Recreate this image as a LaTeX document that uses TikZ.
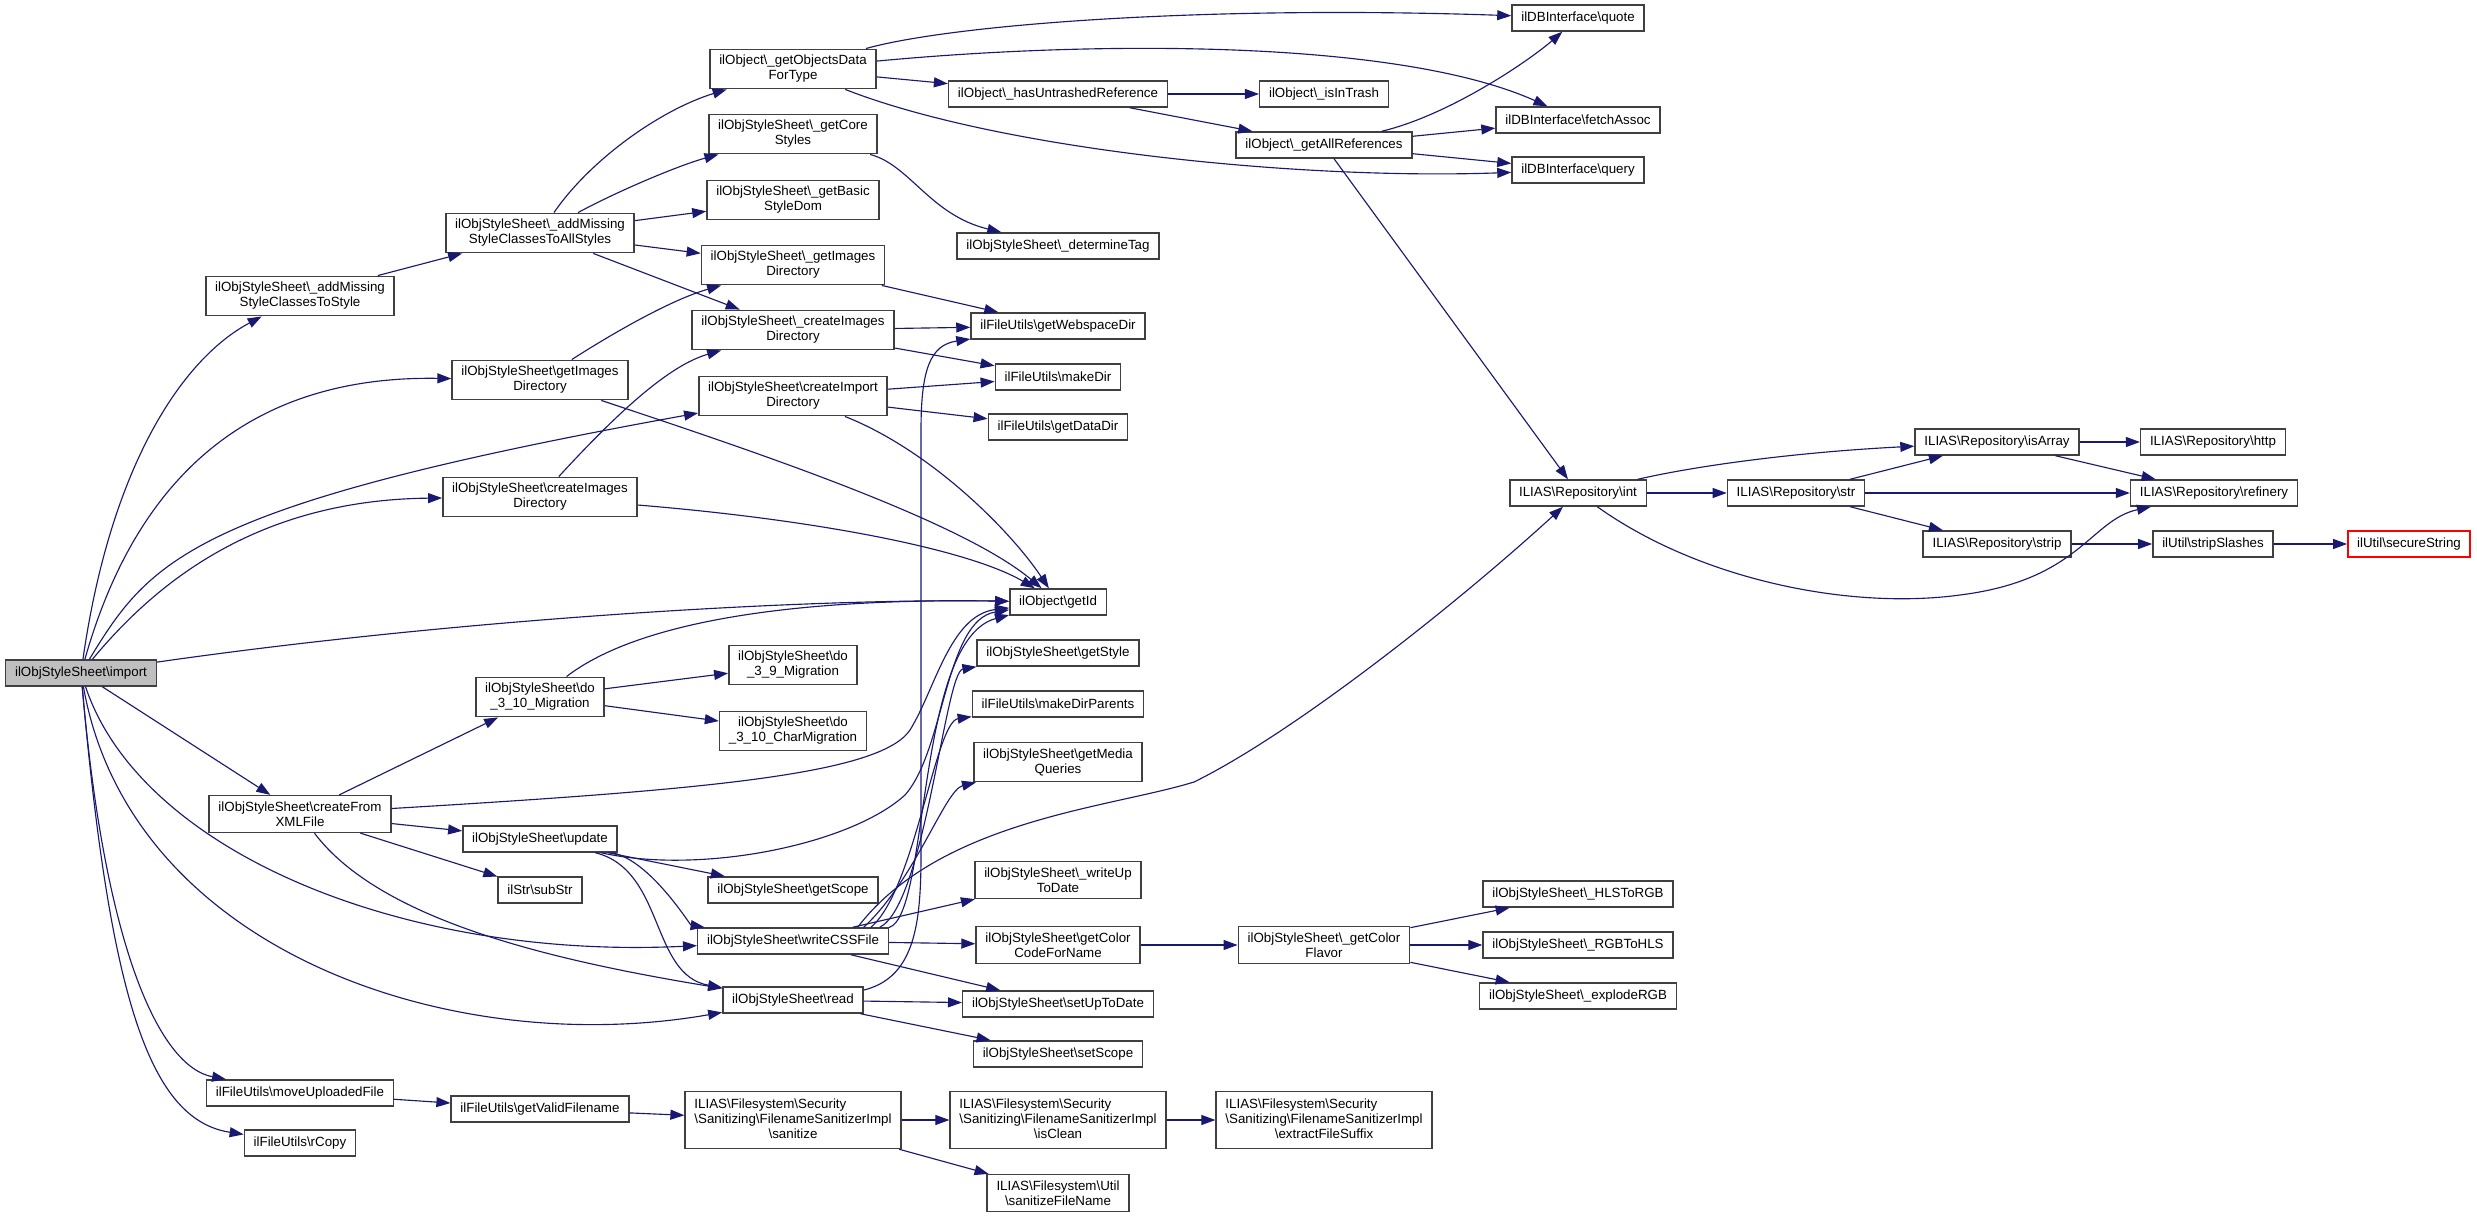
\documentclass[tikz,border=0pt]{standalone}
\usepackage{fontspec}
\setmainfont{Liberation Sans}
\usetikzlibrary{arrows.meta}
\definecolor{edgeblue}{RGB}{25,25,112}
\definecolor{rootgrey}{RGB}{191,191,191}
\newcommand{\bsl}{\textbackslash}

\begin{document}
\begin{tikzpicture}[
        x=0.75pt, y=-0.75pt,
        func/.style={draw=black!75, line width=1.1pt, fill=white, inner xsep=7pt, inner ysep=4.5pt,
            minimum height=19.5pt, align=center, font=\fontsize{10}{11.25}\selectfont},
        root/.style={func, fill=rootgrey},
        trunc/.style={func, draw=red},
        arrow/.style={-{Triangle[length=10.5pt,width=7.5pt]}, edgeblue, line width=0.85pt}
    ]
    \useasboundingbox (0,0) rectangle (2477,1219);
    % Nodes
    \node[root] (I) at (81,673) {ilObjStyleSheet\bsl import};
    \node[func] (TS) at (300,296) {ilObjStyleSheet\bsl\_addMissing\\StyleClassesToStyle};
    \node[func] (CFX) at (300,814) {ilObjStyleSheet\bsl createFrom\\XMLFile};
    \node[func] (MUF) at (300,1093) {ilFileUtils\bsl moveUploadedFile};
    \node[func] (RC) at (300,1143) {ilFileUtils\bsl rCopy};
    \node[func] (AS) at (540,233) {ilObjStyleSheet\bsl\_addMissing\\StyleClassesToAllStyles};
    \node[func] (GID) at (540,380) {ilObjStyleSheet\bsl getImages\\Directory};
    \node[func] (CIMD) at (540,497) {ilObjStyleSheet\bsl createImages\\Directory};
    \node[func] (D310) at (540,697) {ilObjStyleSheet\bsl do\\\_3\_10\_Migration};
    \node[func] (UP) at (540,839) {ilObjStyleSheet\bsl update};
    \node[func] (SS) at (540,890) {ilStr\bsl subStr};
    \node[func] (GVF) at (540,1109) {ilFileUtils\bsl getValidFilename};
    \node[func] (GO) at (793,69) {ilObject\bsl\_getObjectsData\\ForType};
    \node[func] (CS) at (793,134) {ilObjStyleSheet\bsl\_getCore\\Styles};
    \node[func] (BSD) at (793,200) {ilObjStyleSheet\bsl\_getBasic\\StyleDom};
    \node[func] (GIDU) at (793,265) {ilObjStyleSheet\bsl\_getImages\\Directory};
    \node[func] (CIDU) at (793,330) {ilObjStyleSheet\bsl\_createImages\\Directory};
    \node[func] (CID) at (793,396) {ilObjStyleSheet\bsl createImport\\Directory};
    \node[func] (D39) at (793,665) {ilObjStyleSheet\bsl do\\\_3\_9\_Migration};
    \node[func] (D310C) at (793,731) {ilObjStyleSheet\bsl do\\\_3\_10\_CharMigration};
    \node[func] (GS) at (793,890) {ilObjStyleSheet\bsl getScope};
    \node[func] (WCF) at (793,941) {ilObjStyleSheet\bsl writeCSSFile};
    \node[func] (RD) at (793,1000) {ilObjStyleSheet\bsl read};
    \node[func] (SAN) at (793,1120) {\begin{tabular}{@{}l@{}}ILIAS\bsl Filesystem\bsl Security\\\bsl Sanitizing\bsl FilenameSanitizerImpl\\\multicolumn{1}{@{}c@{}}{\bsl sanitize}\end{tabular}};
    \node[func] (HU) at (1058,94) {ilObject\bsl\_hasUntrashedReference};
    \node[func] (DT) at (1058,246) {ilObjStyleSheet\bsl\_determineTag};
    \node[func] (WD) at (1058,326) {ilFileUtils\bsl getWebspaceDir};
    \node[func] (MD) at (1058,377) {ilFileUtils\bsl makeDir};
    \node[func] (DD) at (1058,427) {ilFileUtils\bsl getDataDir};
    \node[func] (GI) at (1058,602) {ilObject\bsl getId};
    \node[func] (GST) at (1058,653) {ilObjStyleSheet\bsl getStyle};
    \node[func] (MDP) at (1058,704) {ilFileUtils\bsl makeDirParents};
    \node[func] (GMQ) at (1058,762) {ilObjStyleSheet\bsl getMedia\\Queries};
    \node[func] (WUD) at (1058,880) {ilObjStyleSheet\bsl\_writeUp\\ToDate};
    \node[func] (GCC) at (1058,945) {ilObjStyleSheet\bsl getColor\\CodeForName};
    \node[func] (SUT) at (1058,1004) {ilObjStyleSheet\bsl setUpToDate};
    \node[func] (SSC) at (1058,1054) {ilObjStyleSheet\bsl setScope};
    \node[func] (ISC) at (1058,1120) {\begin{tabular}{@{}l@{}}ILIAS\bsl Filesystem\bsl Security\\\bsl Sanitizing\bsl FilenameSanitizerImpl\\\multicolumn{1}{@{}c@{}}{\bsl isClean}\end{tabular}};
    \node[func] (SFN) at (1058,1193) {ILIAS\bsl Filesystem\bsl Util\\\bsl sanitizeFileName};
    \node[func] (IT) at (1324,94) {ilObject\bsl\_isInTrash};
    \node[func] (AR) at (1324,145) {ilObject\bsl\_getAllReferences};
    \node[func] (GCF) at (1324,945) {ilObjStyleSheet\bsl\_getColor\\Flavor};
    \node[func] (EFS) at (1324,1120) {\begin{tabular}{@{}l@{}}ILIAS\bsl Filesystem\bsl Security\\\bsl Sanitizing\bsl FilenameSanitizerImpl\\\multicolumn{1}{@{}c@{}}{\bsl extractFileSuffix}\end{tabular}};
    \node[func] (Q) at (1578,18) {ilDBInterface\bsl quote};
    \node[func] (FA) at (1578,120) {ilDBInterface\bsl fetchAssoc};
    \node[func] (QY) at (1578,170) {ilDBInterface\bsl query};
    \node[func] (INT) at (1578,493) {ILIAS\bsl Repository\bsl int};
    \node[func] (HLS) at (1578,894) {ilObjStyleSheet\bsl\_HLSToRGB};
    \node[func] (RH) at (1578,945) {ilObjStyleSheet\bsl\_RGBToHLS};
    \node[func] (ER) at (1578,996) {ilObjStyleSheet\bsl\_explodeRGB};
    \node[func] (STR) at (1796,493) {ILIAS\bsl Repository\bsl str};
    \node[func] (IA) at (1997,442) {ILIAS\bsl Repository\bsl isArray};
    \node[func] (STP) at (1997,544) {ILIAS\bsl Repository\bsl strip};
    \node[func] (HTTP) at (2213,442) {ILIAS\bsl Repository\bsl http};
    \node[func] (RF) at (2214,493) {ILIAS\bsl Repository\bsl refinery};
    \node[func] (SSL) at (2213,544) {ilUtil\bsl stripSlashes};
    \node[trunc] (SEC) at (2409,544) {ilUtil\bsl secureString};
    % Edges from import
    \draw[arrow] (I) .. controls (110,470) and (180,360) .. (TS);
    \draw[arrow] (I) .. controls (130,500) and (230,375) .. (GID);
    \draw[arrow] (I) .. controls (150,560) and (190,505) .. (CID);
    \draw[arrow] (I) .. controls (150,590) and (250,500) .. (CIMD);
    \draw[arrow] (I) .. controls (450,620) and (800,598) .. (GI);
    \draw[arrow] (I) -- (CFX);
    \draw[arrow] (I) .. controls (140,850) and (400,960) .. (WCF);
    \draw[arrow] (I) .. controls (130,950) and (450,1060) .. (RD);
    \draw[arrow] (I) .. controls (105,950) and (160,1067) .. (MUF);
    \draw[arrow] (I) .. controls (110,1000) and (150,1120) .. (RC);
    % Edges of the style classes
    \draw[arrow] (TS) -- (AS);
    \draw[arrow] (AS) .. controls (590,160) and (660,110) .. (GO);
    \draw[arrow] (AS) .. controls (620,190) and (680,165) .. (CS);
    \draw[arrow] (AS) -- (BSD);
    \draw[arrow] (AS) -- (GIDU);
    \draw[arrow] (AS) -- (CIDU);
    \draw[arrow] (GO) .. controls (950,25) and (1200,5) .. (Q);
    \draw[arrow] (GO) .. controls (1100,40) and (1400,40) .. (FA);
    \draw[arrow] (GO) -- (HU);
    \draw[arrow] (GO) .. controls (1000,150) and (1300,180) .. (QY);
    \draw[arrow] (HU) -- (IT);
    \draw[arrow] (HU) -- (AR);
    \draw[arrow] (AR) .. controls (1450,115) and (1530,60) .. (Q);
    \draw[arrow] (AR) -- (FA);
    \draw[arrow] (AR) -- (QY);
    \draw[arrow] (AR) -- (INT);
    \draw[arrow] (CS) .. controls (910,165) and (930,215) .. (DT);
    \draw[arrow] (GIDU) -- (WD);
    \draw[arrow] (CIDU) -- (WD);
    \draw[arrow] (CIDU) -- (MD);
    \draw[arrow] (CID) -- (MD);
    \draw[arrow] (CID) -- (DD);
    \draw[arrow] (CID) .. controls (930,450) and (1010,530) .. (GI);
    \draw[arrow] (GID) .. controls (610,335) and (670,300) .. (GIDU);
    \draw[arrow] (GID) .. controls (750,450) and (960,520) .. (GI);
    \draw[arrow] (CIMD) .. controls (620,410) and (670,365) .. (CIDU);
    \draw[arrow] (CIMD) .. controls (820,520) and (970,550) .. (GI);
    % Edges of createFromXMLFile
    \draw[arrow] (CFX) -- (D310);
    \draw[arrow] (CFX) .. controls (700,790) and (880,775) .. (910,730) .. controls (935,690) and (950,615) .. (GI);
    \draw[arrow] (CFX) -- (UP);
    \draw[arrow] (CFX) -- (SS);
    \draw[arrow] (CFX) .. controls (380,920) and (550,960) .. (RD);
    \draw[arrow] (D310) .. controls (640,620) and (800,598) .. (GI);
    \draw[arrow] (D310) -- (D39);
    \draw[arrow] (D310) -- (D310C);
    \draw[arrow] (UP) .. controls (700,875) and (850,845) .. (905,795) .. controls (945,750) and (945,620) .. (GI);
    \draw[arrow] (UP) -- (GS);
    \draw[arrow] (UP) .. controls (650,860) and (690,925) .. (WCF);
    \draw[arrow] (UP) .. controls (665,870) and (650,975) .. (RD);
    % Edges of writeCSSFile and read
    \draw[arrow] (WCF.8) .. controls (930,915) and (915,640) .. (GI);
    \draw[arrow] (WCF.9) .. controls (925,905) and (945,672) .. (GST);
    \draw[arrow] (WCF.10) .. controls (915,890) and (935,722) .. (MDP);
    \draw[arrow] (WCF.11) .. controls (915,880) and (945,790) .. (GMQ);
    \draw[arrow] (WCF.12) .. controls (940,820) and (1110,808) .. (1194,782) .. controls (1290,735) and (1450,610) .. (INT);
    \draw[arrow] (WCF) -- (WUD);
    \draw[arrow] (WCF) -- (GCC);
    \draw[arrow] (WCF) -- (SUT);
    \draw[arrow] (RD.8) .. controls (925,975) and (921,900) .. (921,820) -- (921,430) .. controls (921,370) and (930,345) .. (WD);
    \draw[arrow] (RD) -- (SUT);
    \draw[arrow] (RD) -- (SSC);
    \draw[arrow] (GCC) -- (GCF);
    \draw[arrow] (GCF) -- (HLS);
    \draw[arrow] (GCF) -- (RH);
    \draw[arrow] (GCF) -- (ER);
    % Edges of the repository
    \draw[arrow] (INT) .. controls (1700,465) and (1800,452) .. (IA);
    \draw[arrow] (INT) -- (STR);
    \draw[arrow] (INT) .. controls (1700,580) and (1850,610) .. (1960,595) .. controls (2080,580) and (2090,520) .. (RF);
    \draw[arrow] (STR) -- (IA);
    \draw[arrow] (STR) -- (RF);
    \draw[arrow] (STR) -- (STP);
    \draw[arrow] (IA) -- (HTTP);
    \draw[arrow] (IA) -- (RF);
    \draw[arrow] (STP) -- (SSL);
    \draw[arrow] (SSL) -- (SEC);
    % Edges of the file names
    \draw[arrow] (MUF) -- (GVF);
    \draw[arrow] (GVF) -- (SAN);
    \draw[arrow] (SAN) -- (ISC);
    \draw[arrow] (SAN) -- (SFN);
    \draw[arrow] (ISC) -- (EFS);
\end{tikzpicture}
\end{document}
